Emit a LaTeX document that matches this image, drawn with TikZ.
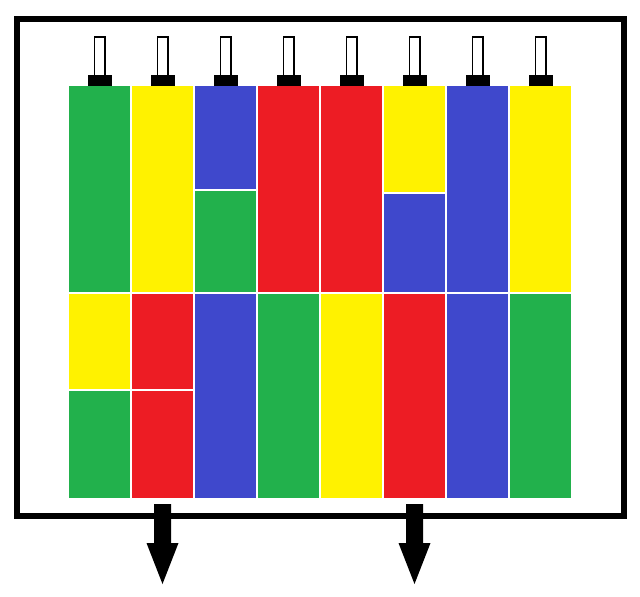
\documentclass[tikz,border=0pt]{standalone}
\definecolor{cgreen}{HTML}{22B14C}
\definecolor{cyellow}{HTML}{FFF200}
\definecolor{cblue}{HTML}{3F48CC}
\definecolor{cred}{HTML}{ED1C24}
\newcommand\cellbox[4]{\fill[#4] (#1,#2) rectangle ($(#1,#3)+(61,0)$);}
\usetikzlibrary{calc}
\begin{document}
\begin{tikzpicture}[x=1pt,y=-1pt,
  framebox/.style={draw=black,line width=6pt},
  plughead/.style={fill=black},
  plugstem/.style={draw=black,fill=white,line width=1.5pt},
  outarrow/.style={fill=black}]
\useasboundingbox[fill=white] (0,0) rectangle (640,597);
% frame
\draw[framebox] (17,19) rectangle (624,516);
% plugs
\foreach \k in {0,...,7}{
  \pgfmathsetmacro\cx{99.5+63*\k}
  \draw[plugstem] (\cx-5.25,36.75) rectangle (\cx+5.25,75.5);
  \fill[plughead] (\cx-12,75) rectangle (\cx+12,86.5);
}
% column 1
\cellbox{69}{86}{292}{cgreen}
\cellbox{69}{294}{389}{cyellow}
\cellbox{69}{391}{498}{cgreen}
% column 2
\cellbox{132}{86}{292}{cyellow}
\cellbox{132}{294}{389}{cred}
\cellbox{132}{391}{498}{cred}
% column 3
\cellbox{195}{86}{189}{cblue}
\cellbox{195}{191}{292}{cgreen}
\cellbox{195}{294}{498}{cblue}
% column 4
\cellbox{258}{86}{292}{cred}
\cellbox{258}{294}{498}{cgreen}
% column 5
\cellbox{321}{86}{292}{cred}
\cellbox{321}{294}{498}{cyellow}
% column 6
\cellbox{384}{86}{192}{cyellow}
\cellbox{384}{194}{292}{cblue}
\cellbox{384}{294}{498}{cred}
% column 7
\cellbox{447}{86}{292}{cblue}
\cellbox{447}{294}{498}{cblue}
% column 8
\cellbox{510}{86}{292}{cyellow}
\cellbox{510}{294}{498}{cgreen}
% output arrows
\foreach \cx in {162.5,414.5}{
  \fill[outarrow] (\cx-8.5,504) -- (\cx+8.5,504) -- (\cx+8.5,543) -- (\cx+16,543)
    -- (\cx,584) -- (\cx-16,543) -- (\cx-8.5,543) -- cycle;
}
\end{tikzpicture}
\end{document}
